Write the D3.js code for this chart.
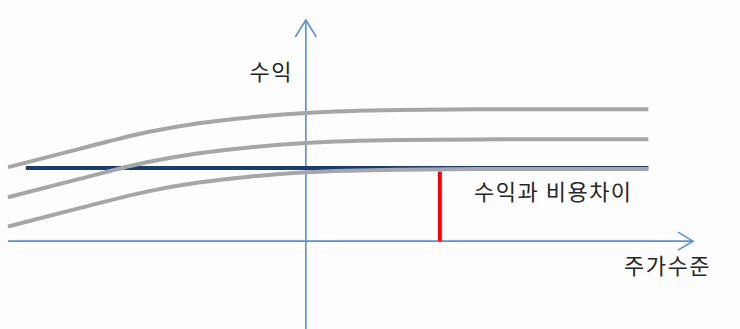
<!DOCTYPE html>
<html>
<head>
<meta charset="utf-8">
<script src="https://cdn.jsdelivr.net/npm/d3@7"></script>
<style>
  html, body { margin: 0; padding: 0; background: #fcfdfc; }
  svg { display: block; }
  text { font-family: "Noto Sans CJK KR", "Noto Sans", sans-serif; fill: #262626; font-size: 22px; letter-spacing: 1.5px; }
</style>
</head>
<body>
<svg id="chart" width="740" height="329"></svg>
<script>
// Stock price level (x), profit (y) in chart units
const priceLevels = [-10, -7.6, -5.3, -3.6, -1.9, 0, 3.1, 6.5, 11.5];
const revenueHigh = [5.05, 6.3, 7.45, 8.05, 8.45, 8.75, 8.95, 9.0, 9.0];
const revenueMid  = [3.0, 4.25, 5.4, 6.0, 6.4, 6.7, 6.9, 6.95, 6.95];
const revenueLow  = [1.0, 2.25, 3.4, 4.0, 4.4, 4.7, 4.88, 4.92, 4.92];
const costLevel = 5.0;
const costStart = -9.4;
const gapPrice = 4.5;
const gapTop = 4.75;

const labels = { yAxis: "수익", xAxis: "주가수준", gap: "수익과 비용차이" };

const width = 740, height = 329;
const svg = d3.select("#chart");

const x = d3.scaleLinear().domain([-10, 13]).range([8, 693]);
const y = d3.scaleLinear().domain([-6, 15.1]).range([329, 20]);

const axisColor = "#5a8fd6";

// axes
svg.append("line")
   .attr("x1", x(-10)).attr("x2", x(13))
   .attr("y1", y(0)).attr("y2", y(0))
   .attr("stroke", axisColor).attr("stroke-width", 1.6);

svg.append("line")
   .attr("x1", x(0)).attr("x2", x(0))
   .attr("y1", y(-6)).attr("y2", y(15.1))
   .attr("stroke", axisColor).attr("stroke-width", 1.6);

// arrow heads
svg.append("path")
   .attr("d", `M${x(13) - 15},${y(0) - 9} L${x(13)},${y(0)} L${x(13) - 15},${y(0) + 9}`)
   .attr("fill", "none").attr("stroke", axisColor).attr("stroke-width", 1.6);

svg.append("path")
   .attr("d", `M${x(0) - 10.5},${y(15.1) + 17} L${x(0)},${y(15.1)} L${x(0) + 10.5},${y(15.1) + 17}`)
   .attr("fill", "none").attr("stroke", axisColor).attr("stroke-width", 1.6);

// cost line
svg.append("line")
   .attr("x1", x(costStart)).attr("x2", x(11.5))
   .attr("y1", y(costLevel)).attr("y2", y(costLevel))
   .attr("stroke", "#1b3e72").attr("stroke-width", 4);

// revenue curves
const line = d3.line()
               .x((d, i) => x(priceLevels[i]))
               .y(d => y(d))
               .curve(d3.curveMonotoneX);

[revenueHigh, revenueMid, revenueLow].forEach(series => {
    svg.append("path")
       .attr("d", line(series))
       .attr("fill", "none")
       .attr("stroke", "#a6a6a6")
       .attr("stroke-width", 4);
});

// gap marker
svg.append("line")
   .attr("x1", x(gapPrice)).attr("x2", x(gapPrice))
   .attr("y1", y(0)).attr("y2", y(gapTop))
   .attr("stroke", "#ff0000").attr("stroke-width", 4);

// labels
svg.append("text")
   .attr("x", 293).attr("y", 80)
   .attr("text-anchor", "end")
   .text(labels.yAxis);

svg.append("text")
   .attr("x", 474).attr("y", 200)
   .text(labels.gap);

svg.append("text")
   .attr("x", 624).attr("y", 274)
   .text(labels.xAxis);
</script>
</body>
</html>
